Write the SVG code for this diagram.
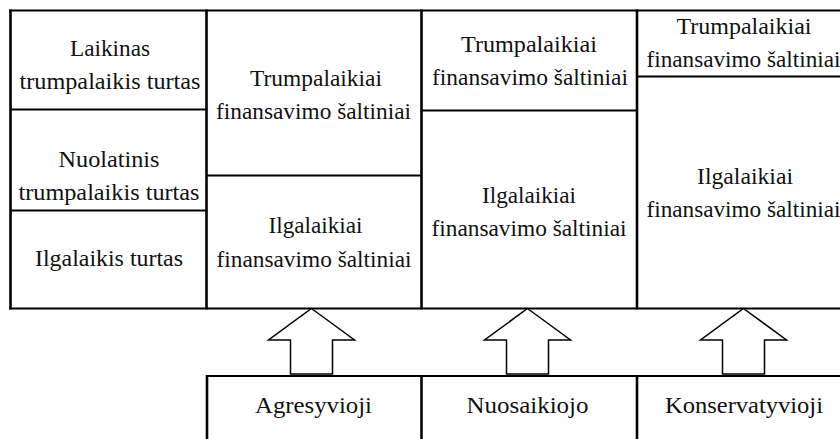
<svg xmlns="http://www.w3.org/2000/svg" width="840" height="439" viewBox="0 0 840 439">
<style>
.bg{fill:#fff}
.ln{stroke:#000;stroke-width:2;fill:none}
.vl{stroke:#000;stroke-width:2.6;fill:none}
.t{font-size:24px;fill:#111;text-anchor:middle}
.ar{fill:#fff;stroke:#000;stroke-width:1.5;stroke-linejoin:miter}
</style>
<rect class="bg" x="0" y="0" width="840" height="439"/>
<text x="2" y="20" font-family="DejaVu Serif" font-size="24" fill="none" xml:space="preserve">&#160;</text>
<g id="texts">
<g id="col1">
<g id="laikinas">
<text class="t" font-family="Liberation Serif" x="110" y="56" textLength="80" lengthAdjust="spacingAndGlyphs">Laikinas</text>
<text class="t" font-family="Liberation Serif" x="110" y="88.5" textLength="181" lengthAdjust="spacingAndGlyphs">trumpalaikis turtas</text>
</g>
<g id="nuolatinis">
<text class="t" font-family="Liberation Serif" x="109" y="167" textLength="101" lengthAdjust="spacingAndGlyphs">Nuolatinis</text>
<text class="t" font-family="Liberation Serif" x="109" y="200" textLength="181" lengthAdjust="spacingAndGlyphs">trumpalaikis turtas</text>
</g>
<g id="ilgalaikis">
<text class="t" font-family="Liberation Serif" x="109" y="266" textLength="148" lengthAdjust="spacingAndGlyphs">Ilgalaikis turtas</text>
</g>
</g>
<g id="col2">
<g id="agr-trump">
<text class="t" font-family="Liberation Serif" x="316" y="86" textLength="132" lengthAdjust="spacingAndGlyphs">Trumpalaikiai</text>
<text class="t" font-family="Liberation Serif" x="313.5" y="118.5" textLength="195" lengthAdjust="spacingAndGlyphs">finansavimo šaltiniai</text>
</g>
<g id="agr-ilg">
<text class="t" font-family="Liberation Serif" x="315.5" y="233" textLength="94" lengthAdjust="spacingAndGlyphs">Ilgalaikiai</text>
<text class="t" font-family="Liberation Serif" x="314" y="266.5" textLength="195" lengthAdjust="spacingAndGlyphs">finansavimo šaltiniai</text>
</g>
</g>
<g id="col3">
<g id="nuo-trump">
<text class="t" font-family="Liberation Serif" x="529" y="52" textLength="136" lengthAdjust="spacingAndGlyphs">Trumpalaikiai</text>
<text class="t" font-family="Liberation Serif" x="530" y="85" textLength="196" lengthAdjust="spacingAndGlyphs">finansavimo šaltiniai</text>
</g>
<g id="nuo-ilg">
<text class="t" font-family="Liberation Serif" x="529" y="203" textLength="94" lengthAdjust="spacingAndGlyphs">Ilgalaikiai</text>
<text class="t" font-family="Liberation Serif" x="529" y="236" textLength="195" lengthAdjust="spacingAndGlyphs">finansavimo šaltiniai</text>
</g>
</g>
<g id="col4">
<g id="kon-trump">
<text class="t" font-family="Liberation Serif" x="744" y="33.5" textLength="135" lengthAdjust="spacingAndGlyphs">Trumpalaikiai</text>
<text class="t" font-family="Liberation Serif" x="743.5" y="67" textLength="194" lengthAdjust="spacingAndGlyphs">finansavimo šaltiniai</text>
</g>
<g id="kon-ilg">
<text class="t" font-family="Liberation Serif" x="745" y="184" textLength="96" lengthAdjust="spacingAndGlyphs">Ilgalaikiai</text>
<text class="t" font-family="Liberation Serif" x="743.5" y="217" textLength="194" lengthAdjust="spacingAndGlyphs">finansavimo šaltiniai</text>
</g>
</g>
<g id="strategies">
<g id="agresyvioji"><text class="t" font-family="Liberation Serif" x="313.5" y="413" textLength="117" lengthAdjust="spacingAndGlyphs">Agresyvioji</text></g>
<g id="nuosaikiojo"><text class="t" font-family="Liberation Serif" x="527.5" y="413" textLength="122" lengthAdjust="spacingAndGlyphs">Nuosaikiojo</text></g>
<g id="konservatyvioji"><text class="t" font-family="Liberation Serif" x="744" y="413" textLength="158" lengthAdjust="spacingAndGlyphs">Konservatyvioji</text></g>
</g>
</g>
<g id="grid">
<line class="ln" x1="9" y1="10.5" x2="840" y2="10.5"/>
<line class="ln" x1="9" y1="308.5" x2="840" y2="308.5"/>
<line class="vl" x1="10.5" y1="9.5" x2="10.5" y2="309.5"/>
<line class="vl" x1="206.5" y1="9.5" x2="206.5" y2="309.5"/>
<line class="vl" x1="421.5" y1="9.5" x2="421.5" y2="309.5"/>
<line class="vl" x1="637" y1="9.5" x2="637" y2="309.5"/>
<line class="ln" x1="10" y1="109.5" x2="206" y2="109.5"/>
<line class="ln" x1="10" y1="210.5" x2="206" y2="210.5"/>
<line class="ln" x1="206" y1="175.5" x2="421" y2="175.5"/>
<line class="ln" x1="421" y1="110.5" x2="637" y2="110.5"/>
<line class="ln" x1="637" y1="76.5" x2="840" y2="76.5"/>
<line class="ln" x1="206" y1="376" x2="840" y2="376"/>
<line class="vl" x1="207" y1="375" x2="207" y2="439"/>
<line class="vl" x1="421.5" y1="375" x2="421.5" y2="439"/>
<line class="vl" x1="637" y1="375" x2="637" y2="439"/>
</g>
<g id="connectors">
<polygon class="ar" points="311.5,308.5 354.5,340 332.5,340 332.5,374 290.5,374 290.5,340 268.5,340"/>
<polygon class="ar" points="527.5,308.5 570.5,340 548.5,340 548.5,374 506.5,374 506.5,340 484.5,340"/>
<polygon class="ar" points="743.5,308.5 786.5,340 764.5,340 764.5,374 722.5,374 722.5,340 700.5,340"/>
</g>
</svg>
